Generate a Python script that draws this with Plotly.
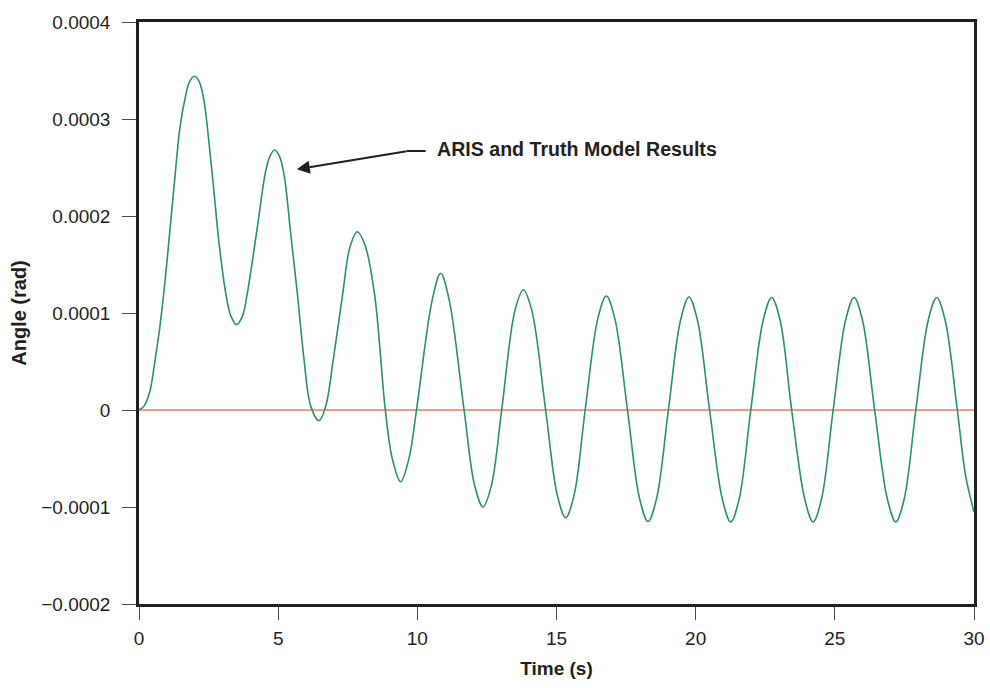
import plotly.graph_objects as go

# Time (s) and angle (rad) (ARIS / truth model overlay)
time_s = [0.0, 0.18, 0.38, 0.58, 0.75, 0.95, 1.12, 1.29, 1.47, 1.66,
          1.81, 1.99, 2.17, 2.34, 2.52, 2.70, 2.88, 3.12, 3.30, 3.51,
          3.72, 3.89, 4.25, 4.55, 4.71, 4.87, 5.04, 5.21, 5.45, 5.69,
          5.93, 6.17, 6.47, 6.71, 6.98, 7.32, 7.58, 7.84, 8.12, 8.46,
          8.85, 9.10, 9.40, 9.70, 9.97, 10.54, 10.84, 11.14, 11.68, 12.06,
          12.36, 12.66, 13.03, 13.51, 13.81, 14.11, 14.61, 15.03, 15.33, 15.63,
          16.03, 16.49, 16.79, 17.09, 17.55, 17.99, 18.29, 18.59, 19.02, 19.46,
          19.76, 20.06, 20.50, 20.96, 21.26, 21.56, 21.98, 22.43, 22.73, 23.03,
          23.45, 23.92, 24.22, 24.52, 24.94, 25.39, 25.69, 25.99, 26.43, 26.89,
          27.19, 27.49, 27.91, 28.36, 28.66, 28.96, 29.40, 29.70, 30.0]
angle_rad = [0.0, 0.04e-4, 0.18e-4, 0.52e-4, 0.86e-4, 1.37e-4, 1.88e-4, 2.40e-4, 2.91e-4, 3.22e-4,
             3.38e-4, 3.44e-4, 3.38e-4, 3.18e-4, 2.74e-4, 2.23e-4, 1.71e-4, 1.20e-4, 0.97e-4, 0.88e-4,
             0.97e-4, 1.20e-4, 1.88e-4, 2.46e-4, 2.62e-4, 2.68e-4, 2.62e-4, 2.43e-4, 1.82e-4, 1.20e-4,
             0.52e-4, 0.04e-4, -0.11e-4, 0.04e-4, 0.52e-4, 1.20e-4, 1.68e-4, 1.838e-4, 1.70e-4, 1.20e-4,
             0.0, -0.50e-4, -0.74e-4, -0.50e-4, 0.0, 1.14e-4, 1.41e-4, 1.14e-4, 0.0, -0.78e-4,
             -1.00e-4, -0.78e-4, 0.0, 1.03e-4, 1.24e-4, 1.03e-4, 0.0, -0.88e-4, -1.11e-4, -0.88e-4,
             0.0, 0.95e-4, 1.175e-4, 0.95e-4, 0.0, -0.92e-4, -1.15e-4, -0.92e-4, 0.0, 0.93e-4,
             1.165e-4, 0.93e-4, 0.0, -0.92e-4, -1.155e-4, -0.92e-4, 0.0, 0.93e-4, 1.16e-4, 0.93e-4,
             0.0, -0.92e-4, -1.155e-4, -0.92e-4, 0.0, 0.93e-4, 1.16e-4, 0.93e-4, 0.0, -0.92e-4,
             -1.155e-4, -0.92e-4, 0.0, 0.93e-4, 1.16e-4, 0.93e-4, 0.0, -0.68e-4, -1.05e-4]

ref_time = [0, 30]
ref_angle = [0, 0]

y_tickvals = [-0.0002, -0.0001, 0, 0.0001, 0.0002, 0.0003, 0.0004]
y_ticktext = ["\u22120.0002", "\u22120.0001", "0", "0.0001", "0.0002", "0.0003", "0.0004"]
x_tickvals = [0, 5, 10, 15, 20, 25, 30]
x_ticktext = ["0", "5", "10", "15", "20", "25", "30"]

annotation_text = "ARIS and Truth Model Results"

FONT = "Liberation Sans, Arial, sans-serif"
FRAME = "#231f20"
TICK = "#4a4a4a"

fig = go.Figure()
fig.add_trace(go.Scatter(x=ref_time, y=ref_angle, mode="lines",
                         line=dict(color="#f07868", width=1.5), hoverinfo="skip",
                         showlegend=False))
fig.add_trace(go.Scatter(x=time_s, y=angle_rad, mode="lines",
                         line=dict(color="#2a9168", width=1.6, shape="spline", smoothing=1.0),
                         showlegend=False))

# arrow: short horizontal tail then diagonal to the curve
fig.add_shape(type="line", xref="x", yref="y", x0=9.62, y0=2.670e-4, x1=10.30, y1=2.670e-4,
              line=dict(color=FRAME, width=2))
fig.add_annotation(x=5.67, y=2.481e-4, ax=9.67, ay=2.670e-4, axref="x", ayref="y",
                   xref="x", yref="y", text="", showarrow=True,
                   arrowhead=2, arrowsize=1.3, arrowwidth=2, arrowcolor=FRAME)
fig.add_annotation(x=10.63, y=2.686e-4, xref="x", yref="y", text="<b>" + annotation_text + "</b>",
                   showarrow=False, xanchor="left", yanchor="middle",
                   font=dict(family=FONT, size=19.6, color=FRAME))

fig.update_layout(
    width=990, height=688,
    margin=dict(l=139, r=16, t=22, b=84),
    paper_bgcolor="white", plot_bgcolor="white",
    font=dict(family=FONT, size=19, color=FRAME),
    xaxis=dict(range=[0, 30], tickvals=x_tickvals, ticktext=x_ticktext, automargin=False,
               showgrid=False, zeroline=False, showline=True, mirror=True,
               linecolor=FRAME, linewidth=2.5, ticks="outside", ticklen=13,
               tickwidth=1, tickcolor=TICK, ticklabelstandoff=2,
               tickfont=dict(family=FONT, size=19, color=FRAME),
               title=dict(text="<b>Time (s)</b>", standoff=15,
                          font=dict(family=FONT, size=19, color=FRAME))),
    yaxis=dict(range=[-0.0002, 0.0004], tickvals=y_tickvals, ticktext=y_ticktext, automargin=False,
               showgrid=False, zeroline=False, showline=True, mirror=True,
               linecolor=FRAME, linewidth=2.5, ticks="outside", ticklen=14,
               tickwidth=1, tickcolor=TICK, ticklabelstandoff=8,
               tickfont=dict(family=FONT, size=19, color=FRAME),
               title=dict(text="<b>Angle (rad)</b>", standoff=10,
                          font=dict(family=FONT, size=20, color=FRAME))),
)

fig.write_html("out.html", config={"displayModeBar": False},
               post_script="document.body.style.margin='0';document.body.style.overflow='hidden';")
